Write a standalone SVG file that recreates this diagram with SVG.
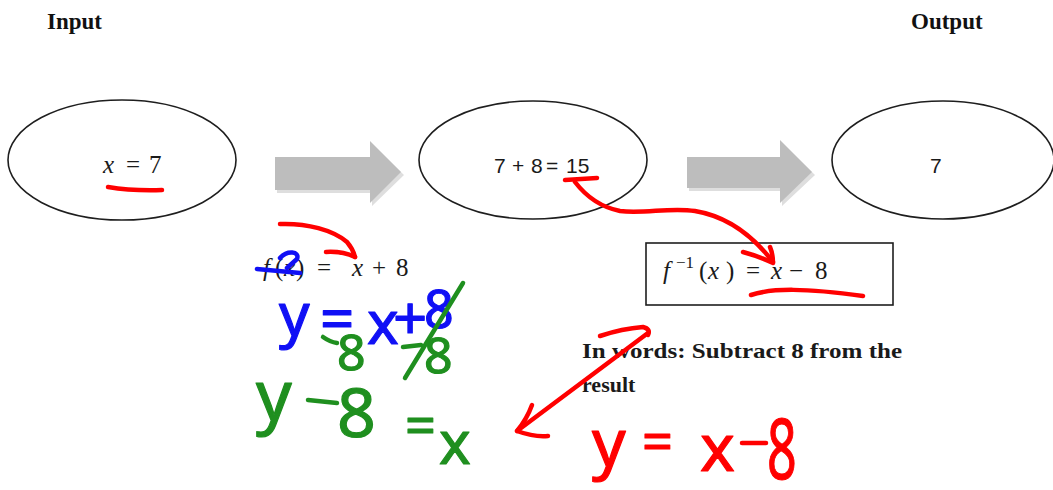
<svg xmlns="http://www.w3.org/2000/svg" width="1053" height="490" viewBox="0 0 1053 490">
<style>
.ell{fill:#fff;stroke:#1e1e1e;stroke-width:1.6}
.hdr{font-family:"Liberation Serif",serif;font-weight:bold;font-size:23px;fill:#111}
.math{font-family:"Liberation Serif",serif;font-size:25px;fill:#1a1a1a}
.it{font-style:italic}
.calc{font-family:"Liberation Sans",sans-serif;font-size:21px;fill:#1a1a1a}
.words{font-family:"Liberation Serif",serif;font-weight:bold;font-size:22px;fill:#1a1a1a}
.blk{fill:#bdbdbd}
.shd{fill:#dedede}
.hw{font-family:"Noto Sans",sans-serif;stroke-linejoin:round}
.red{fill:#f00;stroke:#f00;stroke-width:1.2}
.blue{fill:#1010f5;stroke:#1010f5;stroke-width:1.2}
.green{fill:#1f8f1f;stroke:#1f8f1f;stroke-width:1.2}
.rs{fill:none;stroke:#f00;stroke-width:4.5;stroke-linecap:round;stroke-linejoin:round}
.bs{fill:none;stroke:#1010f5;stroke-width:4.5;stroke-linecap:round;stroke-linejoin:round}
.gs{fill:none;stroke:#1f8f1f;stroke-width:4.5;stroke-linecap:round;stroke-linejoin:round}
</style>
<rect width="1053" height="490" fill="#fff"/>

<g id="label-input"><text class="hdr" x="47" y="29">Input</text></g>
<g id="label-output"><text class="hdr" x="911" y="29">Output</text></g>

<g id="connectors">
  <polygon class="shd" points="277,160 372,160 372,144 404,175 372,206 372,193 277,193"/>
  <polygon class="blk" points="275,157 370,157 370,141 401,172 370,203 370,190 275,190"/>
  <polygon class="shd" points="689,160 782,160 782,143 815,175 782,206 782,191 689,191"/>
  <polygon class="blk" points="687,157 780,157 780,140 812,172 780,203 780,188 687,188"/>
</g>

<g id="node-input">
  <ellipse class="ell" cx="122" cy="160" rx="114" ry="60"/>
  <text class="math"><tspan class="it" x="103" y="173">x</tspan><tspan x="126" y="173">=</tspan><tspan x="149" y="173">7</tspan></text>
</g>
<g id="node-process">
  <ellipse class="ell" cx="533" cy="160" rx="114" ry="59"/>
  <text class="calc"><tspan x="494" y="173">7</tspan><tspan x="512" y="173">+</tspan><tspan x="531" y="173">8</tspan><tspan x="546" y="173">=</tspan><tspan x="566" y="173">15</tspan></text>
</g>
<g id="node-output">
  <ellipse class="ell" cx="943" cy="160" rx="111" ry="59"/>
  <text class="calc" x="930" y="173">7</text>
</g>

<g id="function">
  <text class="math"><tspan class="it" x="263" y="276">f</tspan><tspan x="275" y="276">(</tspan><tspan class="it" x="284" y="276">x</tspan><tspan x="296" y="276">)</tspan><tspan x="317" y="276">=</tspan><tspan class="it" x="352" y="276">x</tspan><tspan x="372" y="276">+</tspan><tspan x="396" y="276">8</tspan></text>
</g>

<g id="inverse">
  <rect x="646" y="243" width="247" height="62" fill="#fff" stroke="#1e1e1e" stroke-width="1.6"/>
  <text class="math"><tspan class="it" x="663" y="279">f</tspan><tspan x="676" y="268" font-size="17">−1</tspan><tspan x="699" y="279">(</tspan><tspan class="it" x="708" y="279">x</tspan><tspan x="726" y="279">)</tspan><tspan x="746" y="279">=</tspan><tspan class="it" x="771" y="279">x</tspan><tspan x="789" y="279">−</tspan><tspan x="815" y="279">8</tspan></text>
</g>

<g id="words">
  <text class="words" x="582" y="358" textLength="320" lengthAdjust="spacingAndGlyphs">In words:  Subtract 8 from the</text>
  <text class="words" x="582" y="392">result</text>
</g>

<g id="annotations">
  <!-- red underlines and arrows -->
  <path class="rs" d="M108 187 Q 132 191 162 190"/>
  <path class="rs" d="M565 180 L 597 178"/>
  <path class="rs" d="M575 182 C 585 195, 600 207, 620 211 C 645 214, 670 207, 695 211 C 725 216, 750 232, 773 262"/>
  <path class="rs" d="M743 252 Q 758 256 773 263 Q 773 254 770 247"/>
  <path class="rs" d="M751 295 C 772 288, 805 288, 863 296"/>
  <path class="rs" d="M280 224 C 307 223, 333 230, 347 242 Q 353 249 355 257"/>
  <path class="rs" d="M326 252 Q 342 251 355 257"/>
  <path class="rs" d="M648 333 L 517 431"/>
  <path class="rs" d="M600 336 C 615 331, 630 328, 643 327 Q 651 329 648 335"/>
  <path class="rs" d="M532 405 C 528 416, 522 425, 517 431 C 528 435, 538 437, 548 436"/>
  <path class="rs" d="M742 443 L 766 443"/>

  <!-- blue -->
  <path class="bs" d="M257 269 L 300 273"/>
  <path class="bs" d="M280 258 C 287 250, 300 251, 297 259 L 287 268"/>
  <text class="hw blue" font-size="60"><tspan x="279" y="336">y</tspan><tspan x="320" y="340">=</tspan><tspan x="367" y="344">x</tspan><tspan x="393" y="340">+</tspan><tspan x="424" y="328" font-size="52">8</tspan></text>

  <!-- green -->
  <path class="gs" d="M323 337 Q 330 342 337 343"/>
  <text class="hw green" font-size="50" x="337" y="370">8</text>
  <path class="gs" d="M403 347 L 421 345"/>
  <text class="hw green" font-size="50" x="424" y="373">8</text>
  <path class="gs" d="M463 283 L 405 378"/>
  <text class="hw green" font-size="70" x="256" y="420">y</text>
  <path class="gs" d="M308 400 L 337 403"/>
  <text class="hw green" font-size="68" x="337" y="437">8</text>
  <text class="hw green" font-size="54" x="405" y="445">=</text>
  <text class="hw green" font-size="60" x="439" y="464">x</text>

  <!-- red handwriting -->
  <text class="hw red" font-size="66" x="592" y="466">y</text>
  <text class="hw red" font-size="54" x="642" y="461">=</text>
  <text class="hw red" font-size="66" x="700" y="471">x</text>
  <text class="hw red" font-size="84" transform="translate(767,479) scale(0.62,1)">8</text>
</g>
</svg>
